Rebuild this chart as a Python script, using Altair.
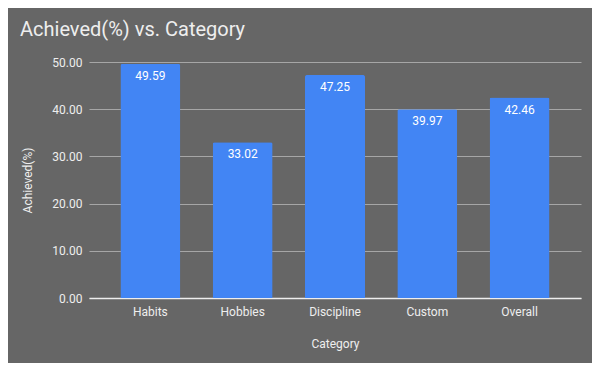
import altair as alt
import pandas as pd

categories = ["Habits", "Hobbies", "Discipline", "Custom", "Overall"]
achieved = [49.59, 33.02, 47.25, 39.97, 42.46]
y_ticks = [0, 10, 20, 30, 40, 50]

df = pd.DataFrame({"Category": categories, "Achieved": achieved})

FONT = "Roboto"
TXT = "#eeeeee"

base = alt.Chart(df).encode(
    x=alt.X("Category:N", sort=categories,
            scale=alt.Scale(paddingInner=0.35, paddingOuter=0.34),
            axis=alt.Axis(title="Category", labelAngle=0, ticks=False, domain=True,
                          domainColor="#eeeeee", domainWidth=1.5,
                          labelPadding=8, titlePadding=21, grid=False)),
    y=alt.Y("Achieved:Q", scale=alt.Scale(domain=[0, 50], nice=False),
            axis=alt.Axis(title="Achieved(%)", format=".2f",
                          values=y_ticks, ticks=False, domain=False, labelOverlap=False,
                          labelFlush=False,
                          gridColor="#a6a6a6", labelPadding=7, titlePadding=17)),
)

bars = base.mark_bar(color="#4285f4", cornerRadiusTopLeft=2, cornerRadiusTopRight=2)
labels = base.mark_text(baseline="top", dy=7, color="white", font=FONT, fontSize=12).encode(
    text=alt.Text("Achieved:Q", format=".2f"))

chart = (bars + labels).properties(
    width=492, height=236,
    background="#666666",
    autosize=alt.AutoSizeParams(type="none"),
    padding={"left": 81, "top": 54, "right": 11, "bottom": 65},
    title=alt.TitleParams("Achieved(%) vs. Category", anchor="start", frame="group",
                          dx=-69, offset=16, fontSize=20, font=FONT, fontWeight="normal",
                          color=TXT),
).configure_view(stroke=None).configure_axis(
    labelFont=FONT, titleFont=FONT, labelColor=TXT, titleColor=TXT,
    labelFontSize=12, titleFontSize=12, titleFontWeight="normal",
)

chart.save("out.html", embed_options={"renderer": "svg", "actions": False})
